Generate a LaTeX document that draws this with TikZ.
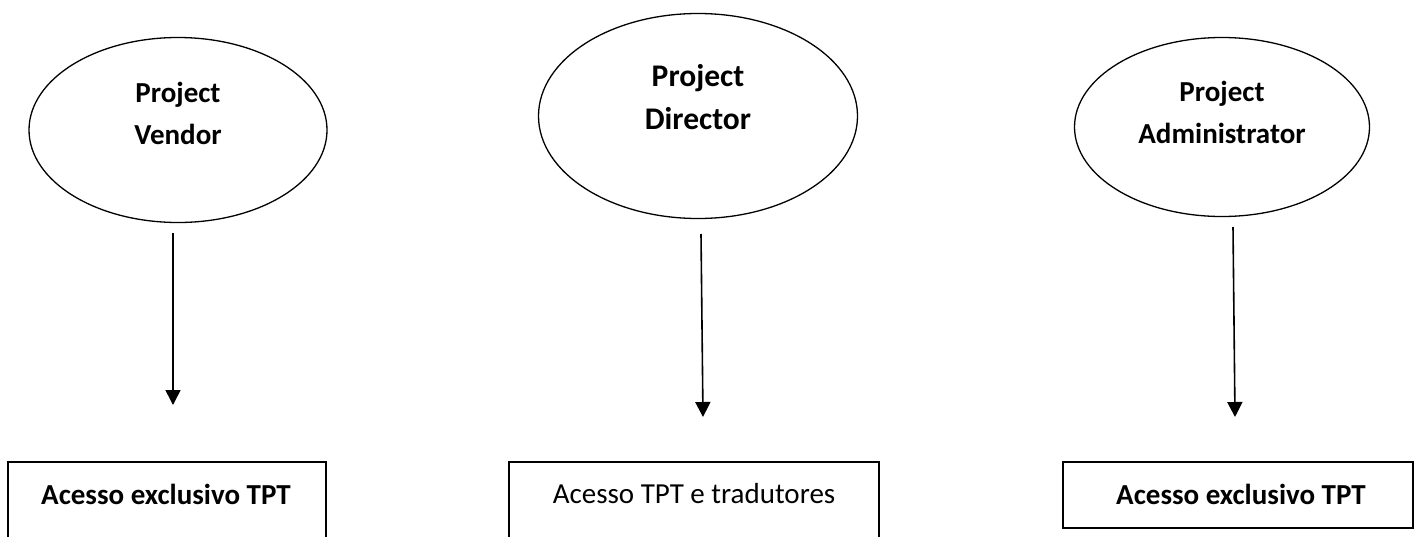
\documentclass[tikz,border=0pt]{standalone}
\usepackage{fontspec}
\setmainfont{Carlito}
\usetikzlibrary{shapes.geometric,arrows.meta}
\begin{document}
\begin{tikzpicture}[x=1pt,y=-1pt,
  role/.style={draw, ellipse, line width=1.3pt, inner sep=0pt, outer sep=0pt},
  lbl/.style={font=\bfseries\fontsize{29}{42}\selectfont, align=center, inner sep=0pt},
  accbox/.style={draw, line width=2pt, inner sep=0pt, outer sep=0pt},
  acctext/.style={font=\fontsize{29}{35}\selectfont, inner sep=0pt},
  arr/.style={line width=1.6pt, -{Triangle[width=15pt,length=15pt]}}]
\useasboundingbox (0,0) rectangle (1414,536);
\clip (0,0) rectangle (1414,536);

% ellipses
\node[role, minimum width=298pt, minimum height=185pt] (pv) at (178,130) {};
\node[lbl] (pvt) at (178,113) {Project\\Vendor};
\node[role, minimum width=319pt, minimum height=205pt] (pd) at (698,116) {};
\node[lbl, font=\bfseries\fontsize{31.5}{43}\selectfont] (pdt) at (698,97) {Project\\Director};
\node[role, minimum width=295pt, minimum height=179pt] (pa) at (1222,127) {};
\node[lbl] (pat) at (1222,112) {Project\\Administrator};

% boxes
\node[accbox, minimum width=318pt, minimum height=120pt, anchor=north] (b1) at (167,462) {};
\node[acctext, font=\bfseries\fontsize{29}{35}\selectfont] (b1t) at (166,494) {Acesso exclusivo TPT};
\node[accbox, line width=1.5pt, minimum width=370pt, minimum height=120pt, anchor=north] (b2) at (694,462) {};
\node[acctext] (b2t) at (694,494) {Acesso TPT e tradutores};
\node[accbox, minimum width=350pt, minimum height=66pt, anchor=north] (b3) at (1238,462) {};
\node[acctext, font=\bfseries\fontsize{29}{35}\selectfont] (b3t) at (1241,494) {Acesso exclusivo TPT};

% arrows
\coordinate (a1s) at (173,233); \coordinate (a1e) at (173,405);
\coordinate (a2s) at (701,234); \coordinate (a2e) at (703,417);
\coordinate (a3s) at (1233,227); \coordinate (a3e) at (1235,417);
\draw[arr] (a1s) -- (a1e);
\draw[arr] (a2s) -- (a2e);
\draw[arr] (a3s) -- (a3e);
\end{tikzpicture}
\end{document}
